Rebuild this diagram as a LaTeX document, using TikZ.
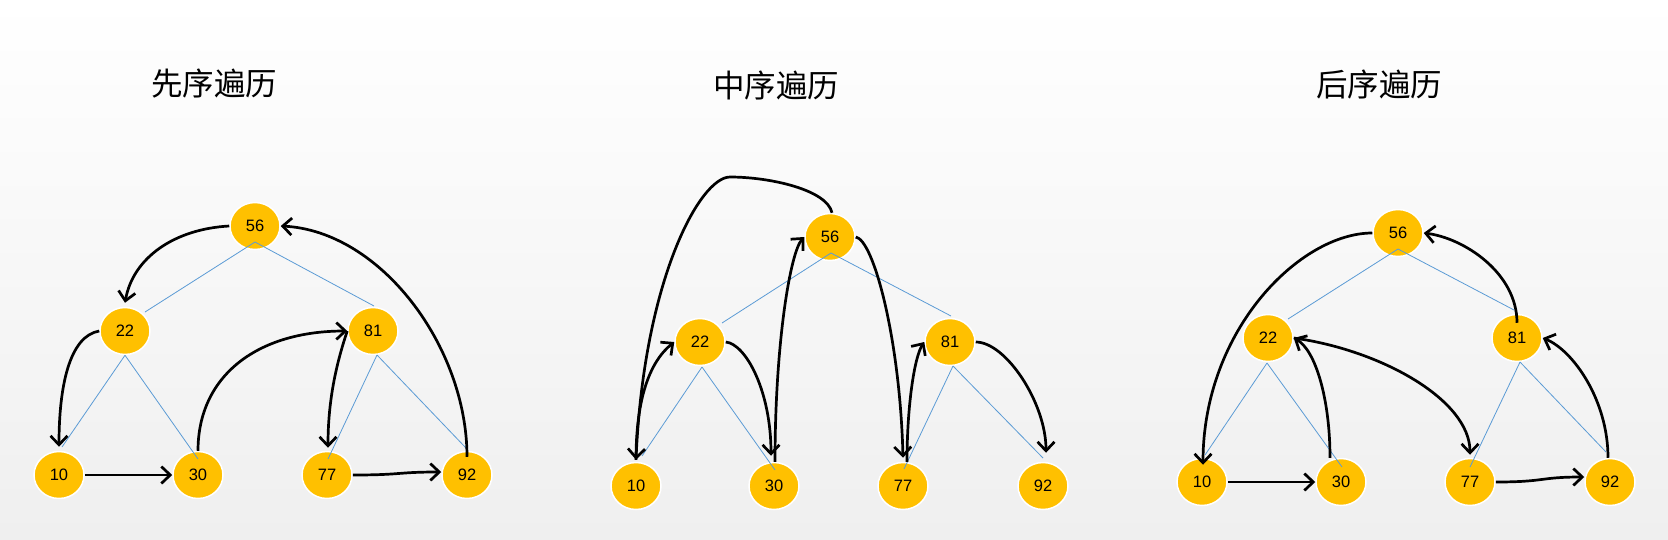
\documentclass[tikz,border=0pt]{standalone}
\usepackage{fontspec}
\setmainfont{Liberation Sans}
\newfontfamily\cjkfont{Noto Sans CJK SC}
\usetikzlibrary{shapes.geometric,arrows.meta,calc}
\definecolor{nodefill}{HTML}{FFC000}
\definecolor{treeline}{HTML}{5B9BD5}
\definecolor{bgbottom}{HTML}{EFEFEF}
\tikzset{
  tnode/.style={ellipse,fill=nodefill,draw=white,line width=1.5pt,minimum width=50pt,minimum height=47pt,inner sep=0pt,font=\fontsize{16.5}{16.5}\selectfont},
  tedge/.style={draw=treeline,line width=0.8pt},
  trav/.style={draw=black,line width=2.7pt,-{Straight Barb[length=9pt,width=17pt,line width=2.7pt]}},
  title/.style={font=\cjkfont\fontsize{31.5}{31.5}\selectfont}
}
\begin{document}
\begin{tikzpicture}[x=1pt,y=-1pt]
\shade[top color=white,bottom color=bgbottom] (0,0) rectangle (1668,539);
\useasboundingbox (0,0) rectangle (1668,539);
% titles
\node[title] (title1) at (214,84) {先序遍历};
\node[title] (title2) at (776,85) {中序遍历};
\node[title] (title3) at (1379,84) {后序遍历};
% ---------- tree 1 ----------
\node[tnode] (t1n56) at (255,226) {56};
\node[tnode] (t1n22) at (125,331) {22};
\node[tnode] (t1n81) at (373,331) {81};
\node[tnode] (t1n10) at (59,475) {10};
\node[tnode] (t1n30) at (198,475) {30};
\node[tnode] (t1n77) at (327,475) {77};
\node[tnode] (t1n92) at (467,475) {92};
\draw[tedge] ([yshift=-16pt]t1n56.center) -- ([shift={(20pt,19pt)}]t1n22.center);
\draw[tedge] ([yshift=-16pt]t1n56.center) -- ([shift={(1pt,25pt)}]t1n81.center);
\draw[tedge] (t1n22.south) -- ([shift={(3pt,28pt)}]t1n10.center);
\draw[tedge] (t1n22.south) -- ([shift={(0pt,16pt)}]t1n30.center);
\draw[tedge] ([shift={(4pt,-24pt)}]t1n81.center) -- ([shift={(1pt,16pt)}]t1n77.center);
\draw[tedge] ([shift={(4pt,-24pt)}]t1n81.center) -- ([shift={(-1pt,27pt)}]t1n92.center);
\draw[trav] (t1n56.west) .. controls +(-55,3) and +(8,-45) .. ([yshift=4pt]t1n22.north);
\draw[trav] (t1n22.west) .. controls +(-30,5) and +(0,-60) .. ([yshift=4pt]t1n10.north);
\draw[trav] (t1n10.east) -- (t1n30.west);
\draw[trav] (t1n30.north) .. controls +(0,-75) and +(-90,0) .. (t1n81.west);
\draw[trav] (t1n81.west) .. controls +(-10,30) and +(0,-50) .. ([shift={(1pt,3pt)}]t1n77.north);
\draw[trav] (t1n77.east) .. controls +(50,0) and +(-45,0) .. ([yshift=3pt]t1n92.west);
\draw[trav] ([yshift=-6pt]t1n92.north) .. controls +(0,-110) and +(100,5) .. (t1n56.east);
% ---------- tree 2 ----------
\node[tnode] (t2n56) at (830,237) {56};
\node[tnode] (t2n22) at (700,342) {22};
\node[tnode] (t2n81) at (950,342) {81};
\node[tnode] (t2n10) at (636,486) {10};
\node[tnode] (t2n30) at (774,486) {30};
\node[tnode] (t2n77) at (903,486) {77};
\node[tnode] (t2n92) at (1043,486) {92};
\draw[tedge] ([shift={(1pt,-16pt)}]t2n56.center) -- ([shift={(22pt,19pt)}]t2n22.center);
\draw[tedge] ([shift={(1pt,-16pt)}]t2n56.center) -- ([shift={(1pt,26pt)}]t2n81.center);
\draw[tedge] ([shift={(2pt,-25pt)}]t2n22.center) -- ([shift={(6pt,30pt)}]t2n10.center);
\draw[tedge] ([shift={(2pt,-25pt)}]t2n22.center) -- ([shift={(1pt,16pt)}]t2n30.center);
\draw[tedge] ([shift={(3pt,-24pt)}]t2n81.center) -- ([shift={(1pt,17pt)}]t2n77.center);
\draw[tedge] ([shift={(3pt,-24pt)}]t2n81.center) -- ([shift={(0pt,28pt)}]t2n92.center);
\draw[trav] ([xshift=2pt]t2n56.north) .. controls +(-5,-23) and +(40,0) .. (730,177)
  .. controls +(-30,0) and +(8,-180) .. ([yshift=2pt]t2n10.north);
\draw[trav] ([yshift=2pt]t2n10.north) .. controls +(0,-60) and +(-25,20) .. (t2n22.west);
\draw[trav] (t2n22.east) .. controls +(20,2) and +(0,-65) .. ([shift={(-3pt,6pt)}]t2n30.north);
\draw[trav] ([xshift=1pt]t2n30.north) .. controls +(0,-118) and +(-14,15) .. (t2n56.west);
\draw[trav] (t2n56.east) .. controls +(18,3) and +(-3,-118) .. ([yshift=4pt]t2n77.north);
\draw[trav] ([xshift=4pt]t2n77.north) .. controls +(0,-55) and +(-10,15) .. (t2n81.west);
\draw[trav] (t2n81.east) .. controls +(30,0) and +(0,-50) .. ([shift={(3pt,9pt)}]t2n92.north);
% ---------- tree 3 ----------
\node[tnode] (t3n56) at (1398,233) {56};
\node[tnode] (t3n22) at (1268,338) {22};
\node[tnode] (t3n81) at (1517,338) {81};
\node[tnode] (t3n10) at (1202,482) {10};
\node[tnode] (t3n30) at (1341,482) {30};
\node[tnode] (t3n77) at (1470,482) {77};
\node[tnode] (t3n92) at (1610,482) {92};
\draw[tedge] ([yshift=-16pt]t3n56.center) -- ([shift={(20pt,19pt)}]t3n22.center);
\draw[tedge] ([yshift=-16pt]t3n56.center) -- ([shift={(-3pt,28pt)}]t3n81.center);
\draw[tedge] ([shift={(-1pt,-25pt)}]t3n22.center) -- ([shift={(3pt,27pt)}]t3n10.center);
\draw[tedge] ([shift={(-1pt,-25pt)}]t3n22.center) -- ([shift={(1pt,15pt)}]t3n30.center);
\draw[tedge] ([shift={(3pt,-24pt)}]t3n81.center) -- ([shift={(0pt,15pt)}]t3n77.center);
\draw[tedge] ([shift={(3pt,-24pt)}]t3n81.center) -- ([shift={(-4pt,30pt)}]t3n92.center);
\draw[trav] (t3n56.west) .. controls +(-72,0) and +(0,-135) .. ([shift={(1pt,-7pt)}]t3n10.north);
\draw[trav] (t3n10.east) -- (t3n30.west);
\draw[trav] ([xshift=-11pt]t3n30.north) .. controls +(0,-58) and +(22,12) .. (t3n22.east);
\draw[trav] (t3n22.east) .. controls +(87,12) and +(0,-55) .. ([yshift=3pt]t3n77.north);
\draw[trav] (t3n77.east) .. controls +(50,0) and +(-45,0) .. ([yshift=5pt]t3n92.west);
\draw[trav] ([xshift=-2pt]t3n92.north) .. controls +(0,-58) and +(30,12) .. (t3n81.east);
\draw[trav] ([yshift=-9pt]t3n81.north) .. controls +(0,-50) and +(40,5) .. (t3n56.east);
\end{tikzpicture}
\end{document}
